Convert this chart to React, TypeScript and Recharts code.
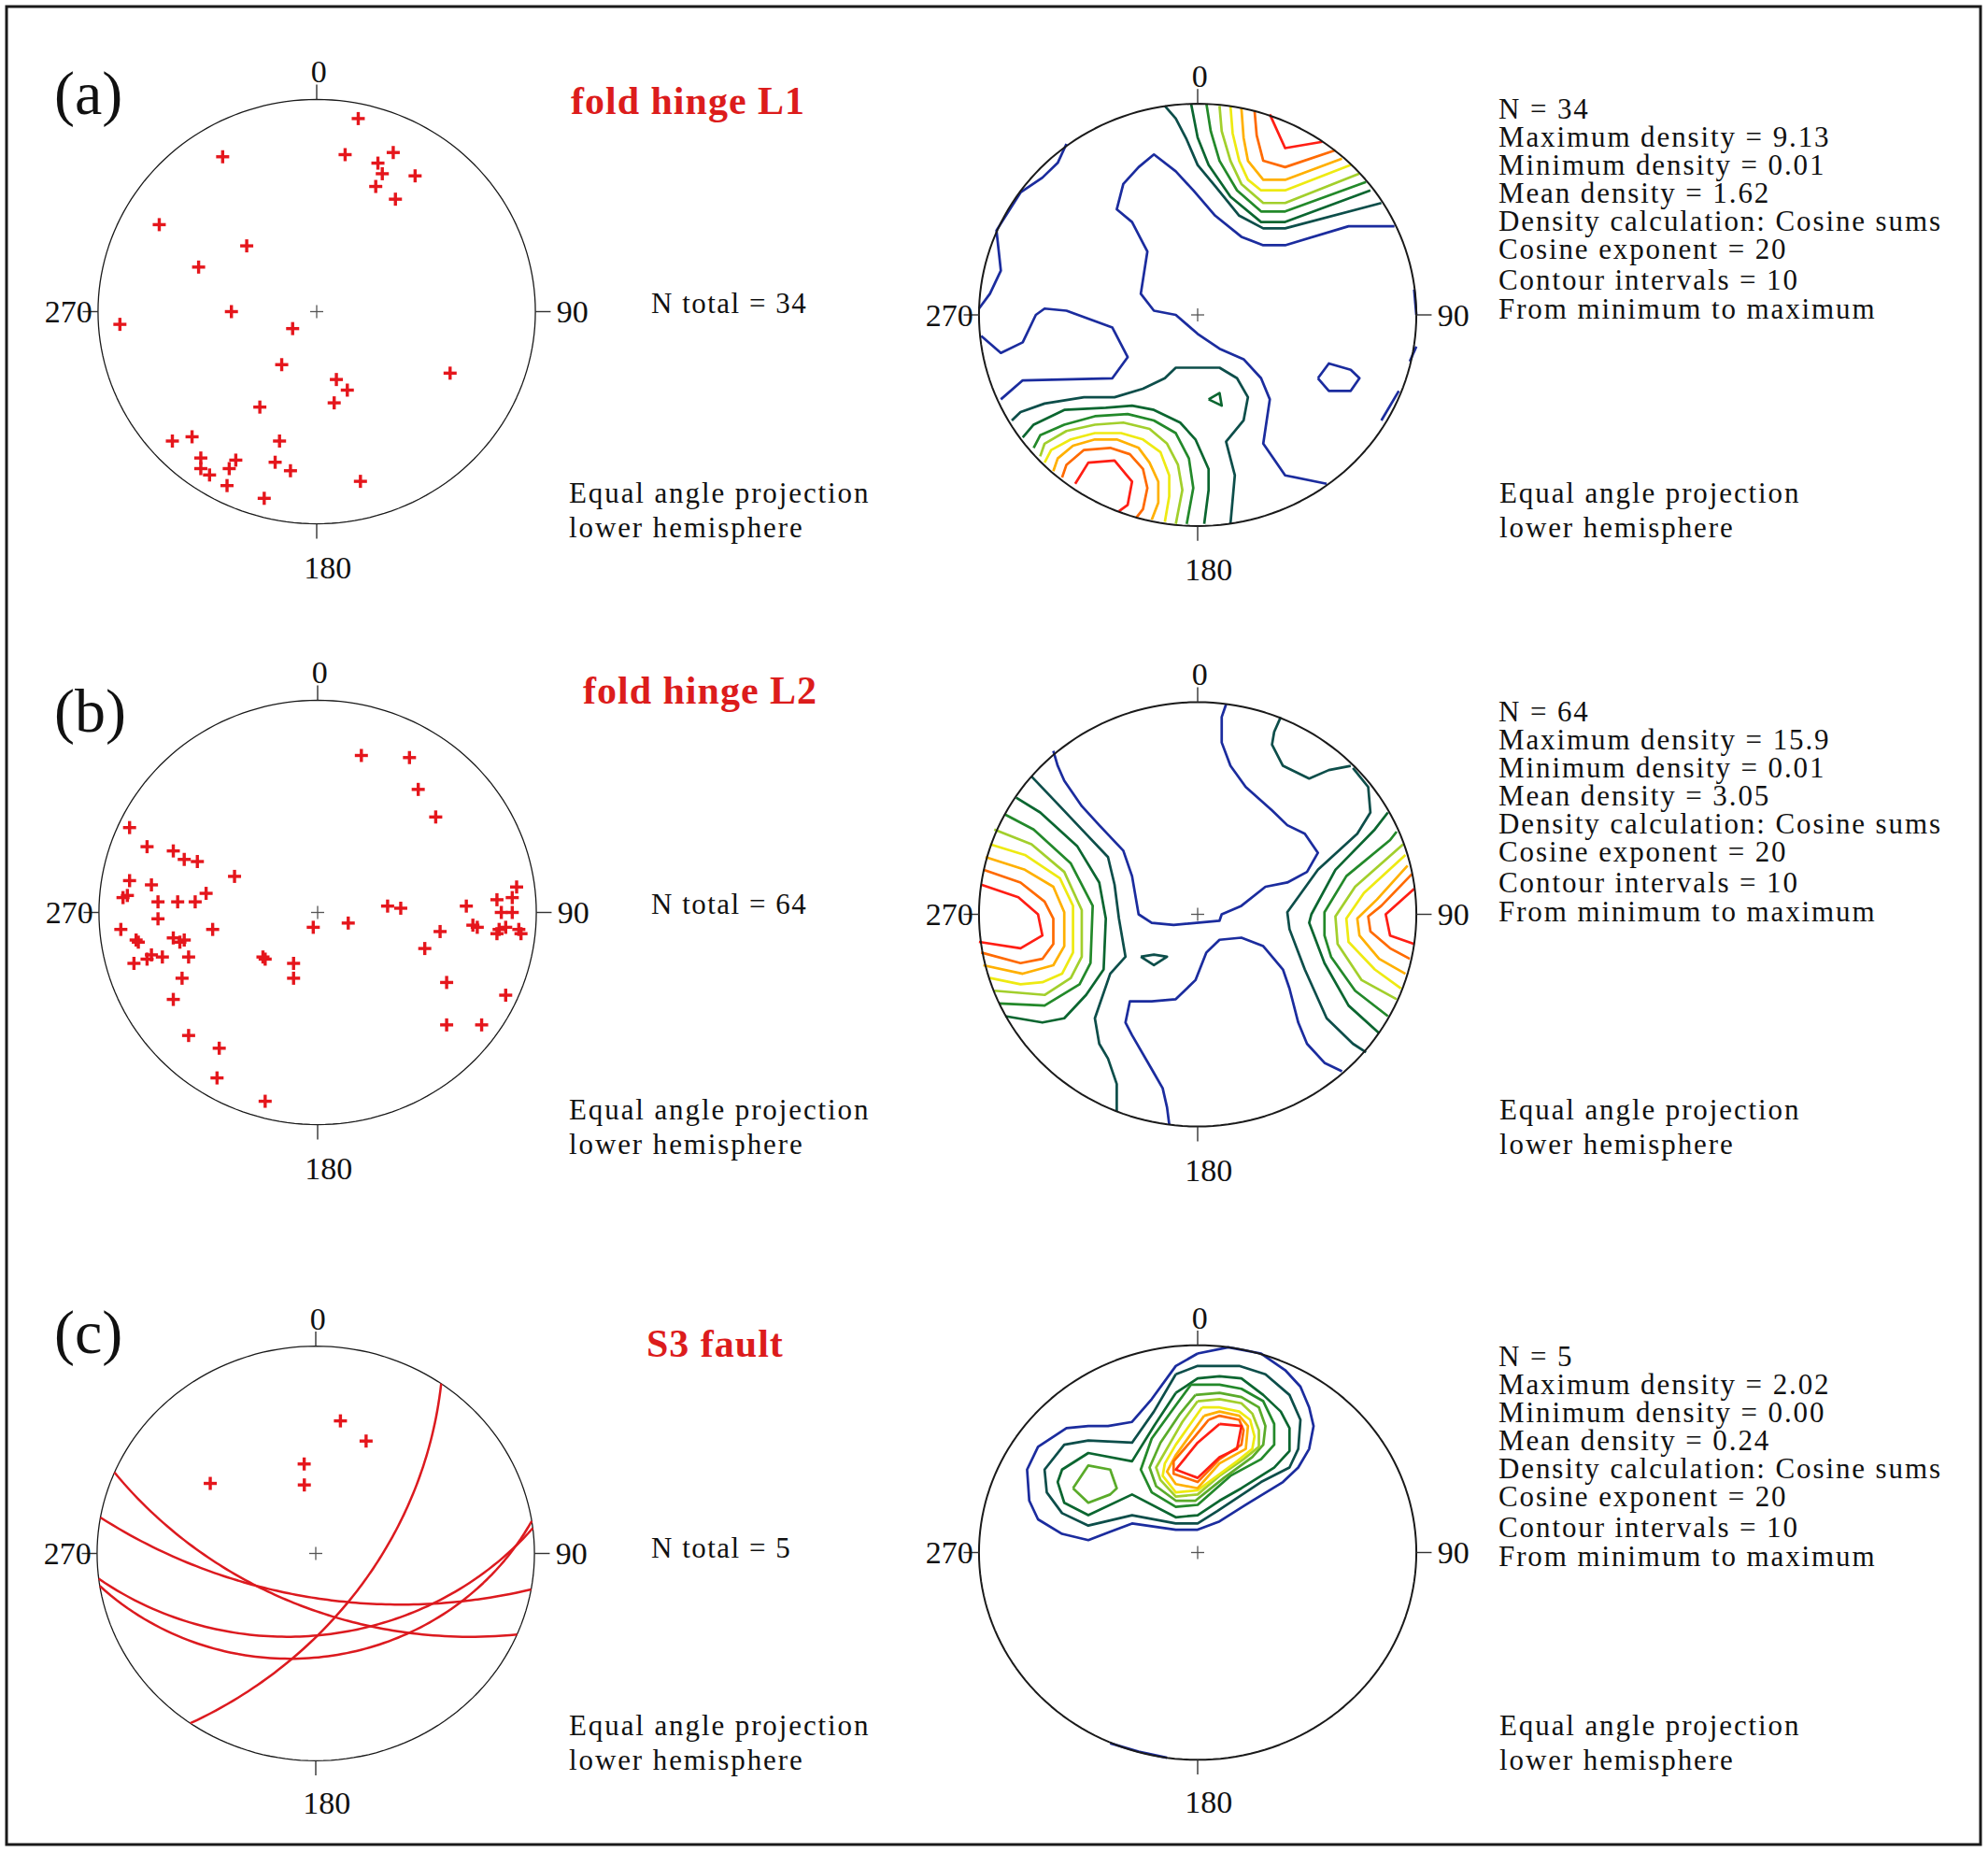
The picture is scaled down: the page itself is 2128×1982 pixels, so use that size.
import React from "react";
import { ScatterChart, Scatter, XAxis, YAxis } from "recharts";

// ---------- data (unit circle: x = east, y = north) ----------

const hingeL1: number[][] = [
  [0.19, 0.91], [-0.43, 0.73], [0.13, 0.74], [0.35, 0.75], [0.28, 0.7], [0.3, 0.65],
  [0.45, 0.64], [0.27, 0.59], [0.36, 0.53], [-0.72, 0.41], [-0.32, 0.31], [-0.54, 0.21],
  [-0.39, 0.0], [-0.9, -0.06], [-0.11, -0.08], [-0.16, -0.25], [0.61, -0.29], [0.09, -0.32],
  [0.14, -0.37], [0.08, -0.43], [-0.26, -0.45], [-0.66, -0.61], [-0.57, -0.59], [-0.17, -0.61],
  [-0.53, -0.69], [-0.37, -0.7], [-0.53, -0.74], [-0.4, -0.74], [-0.49, -0.77], [-0.19, -0.71],
  [-0.12, -0.75], [-0.41, -0.82], [0.2, -0.8], [-0.24, -0.88],
];

const hingeL2: number[][] = [
  [0.2, 0.74], [0.42, 0.73], [0.46, 0.58], [0.54, 0.45], [-0.86, 0.4], [-0.78, 0.31],
  [-0.66, 0.29], [-0.61, 0.25], [-0.55, 0.24], [-0.38, 0.17], [-0.86, 0.15], [-0.76, 0.13],
  [-0.87, 0.08], [-0.89, 0.07], [-0.73, 0.05], [-0.64, 0.05], [-0.56, 0.05], [-0.51, 0.09],
  [-0.73, -0.03], [-0.9, -0.08], [-0.48, -0.08], [-0.66, -0.12], [-0.61, -0.13], [-0.63, -0.14],
  [-0.83, -0.13], [-0.82, -0.14], [-0.84, -0.24], [-0.78, -0.22], [-0.76, -0.2], [-0.71, -0.21],
  [-0.59, -0.21], [-0.62, -0.31], [-0.66, -0.41], [-0.59, -0.58], [-0.45, -0.64], [-0.46, -0.78],
  [-0.24, -0.89], [-0.25, -0.21], [-0.24, -0.22], [-0.11, -0.24], [-0.11, -0.31], [-0.02, -0.07],
  [0.14, -0.05], [0.32, 0.03], [0.38, 0.02], [0.56, -0.09], [0.49, -0.17], [0.68, 0.03],
  [0.71, -0.06], [0.73, -0.07], [0.59, -0.33], [0.59, -0.53], [0.75, -0.53], [0.86, -0.39],
  [0.82, 0.06], [0.89, 0.07], [0.91, 0.12], [0.84, 0.0], [0.89, 0.0], [0.82, -0.1],
  [0.86, -0.07], [0.92, -0.08], [0.93, -0.1], [0.83, -0.08],
];

// S3 fault planes: dip direction / dip (degrees)
const faultDipDir = [190, 203, 173, 171, 125];
const faultDip = [66, 61, 47, 37, 61];

type Contour = { lv: number; pts: number[][] };

const densityL1: Contour[] = [
  { lv: 10, pts: [[0.33, 0.95], [0.4, 0.79], [0.57, 0.82]] },
  { lv: 9, pts: [[0.26, 0.97], [0.27, 0.85], [0.3, 0.73], [0.4, 0.7], [0.63, 0.78]] },
  { lv: 8, pts: [[0.2, 0.98], [0.21, 0.84], [0.23, 0.73], [0.3, 0.64], [0.4, 0.64], [0.66, 0.74]] },
  { lv: 7, pts: [[0.15, 0.99], [0.16, 0.86], [0.19, 0.73], [0.23, 0.64], [0.29, 0.59], [0.4, 0.59], [0.7, 0.71]] },
  { lv: 6, pts: [[0.1, 0.99], [0.11, 0.87], [0.15, 0.73], [0.2, 0.62], [0.3, 0.53], [0.4, 0.53], [0.74, 0.67]] },
  { lv: 4, pts: [[0.04, 1.0], [0.06, 0.87], [0.1, 0.73], [0.18, 0.59], [0.29, 0.49], [0.4, 0.49], [0.77, 0.63]] },
  { lv: 3, pts: [[-0.03, 1.0], [0.0, 0.84], [0.05, 0.71], [0.15, 0.56], [0.29, 0.44], [0.4, 0.44], [0.79, 0.59]] },
  { lv: 2, pts: [[-0.15, 0.99], [-0.1, 0.93], [-0.05, 0.83], [0.0, 0.71], [0.08, 0.61], [0.19, 0.47], [0.3, 0.41], [0.4, 0.41], [0.84, 0.53]] },
  { lv: 1, pts: [[0.9, 0.42], [0.69, 0.42], [0.4, 0.33], [0.3, 0.33], [0.2, 0.37], [0.08, 0.47], [-0.02, 0.59], [-0.1, 0.68], [-0.2, 0.76], [-0.27, 0.7], [-0.34, 0.62], [-0.37, 0.5], [-0.3, 0.44], [-0.23, 0.3], [-0.26, 0.1], [-0.2, 0.02], [-0.1, 0.0], [0.0, -0.09], [0.1, -0.16], [0.21, -0.21], [0.29, -0.3], [0.33, -0.4], [0.3, -0.61], [0.4, -0.76], [0.59, -0.8]] },
  { lv: 1, pts: [[-0.6, 0.81], [-0.64, 0.72], [-0.71, 0.65], [-0.81, 0.58], [-0.92, 0.4], [-0.9, 0.21], [-0.95, 0.1], [-1.0, 0.03]] },
  { lv: 1, pts: [[-0.9, -0.4], [-0.8, -0.31], [-0.39, -0.3], [-0.32, -0.2], [-0.39, -0.06], [-0.6, 0.02], [-0.7, 0.03], [-0.74, 0.0], [-0.8, -0.13], [-0.9, -0.18], [-0.99, -0.1]] },
  { lv: 1, pts: [[0.55, -0.3], [0.6, -0.23], [0.7, -0.26], [0.74, -0.3], [0.7, -0.36], [0.6, -0.36], [0.55, -0.3]] },
  { lv: 1, pts: [[0.99, 0.12], [1.0, 0.0]] },
  { lv: 1, pts: [[1.0, -0.15], [0.97, -0.22]] },
  { lv: 1, pts: [[0.92, -0.36], [0.84, -0.5]] },
  { lv: 2, pts: [[-0.85, -0.5], [-0.81, -0.46], [-0.7, -0.42], [-0.52, -0.39], [-0.38, -0.39], [-0.25, -0.35], [-0.15, -0.3], [-0.1, -0.25], [0.1, -0.25], [0.18, -0.3], [0.23, -0.39], [0.21, -0.5], [0.13, -0.6], [0.17, -0.76], [0.15, -0.99]] },
  { lv: 3, pts: [[-0.8, -0.58], [-0.75, -0.52], [-0.61, -0.45], [-0.42, -0.44], [-0.3, -0.43], [-0.2, -0.45], [-0.08, -0.51], [-0.01, -0.59], [0.05, -0.73], [0.05, -0.83], [0.03, -0.99]] },
  { lv: 4, pts: [[-0.75, -0.63], [-0.72, -0.57], [-0.61, -0.52], [-0.47, -0.48], [-0.32, -0.47], [-0.2, -0.5], [-0.1, -0.56], [-0.04, -0.68], [-0.02, -0.82], [-0.05, -0.99]] },
  { lv: 6, pts: [[-0.72, -0.67], [-0.7, -0.61], [-0.6, -0.55], [-0.47, -0.52], [-0.34, -0.51], [-0.22, -0.54], [-0.14, -0.61], [-0.09, -0.71], [-0.07, -0.83], [-0.1, -0.99]] },
  { lv: 7, pts: [[-0.7, -0.7], [-0.67, -0.64], [-0.58, -0.59], [-0.47, -0.56], [-0.35, -0.56], [-0.25, -0.59], [-0.17, -0.65], [-0.13, -0.76], [-0.13, -0.86], [-0.15, -0.98]] },
  { lv: 8, pts: [[-0.66, -0.74], [-0.64, -0.68], [-0.57, -0.62], [-0.47, -0.59], [-0.37, -0.59], [-0.27, -0.63], [-0.22, -0.7], [-0.18, -0.79], [-0.18, -0.89], [-0.21, -0.97]] },
  { lv: 9, pts: [[-0.62, -0.77], [-0.6, -0.71], [-0.52, -0.64], [-0.4, -0.63], [-0.31, -0.66], [-0.25, -0.73], [-0.23, -0.82], [-0.25, -0.92], [-0.28, -0.96]] },
  { lv: 10, pts: [[-0.56, -0.8], [-0.5, -0.7], [-0.38, -0.69], [-0.3, -0.79], [-0.32, -0.9], [-0.36, -0.93]] },
  { lv: 3, pts: [[0.05, -0.4], [0.1, -0.37], [0.11, -0.43], [0.05, -0.4]] },
];

const densityL2: Contour[] = [
  { lv: 10, pts: [[-0.99, 0.14], [-0.82, 0.08], [-0.73, 0.0], [-0.71, -0.1], [-0.81, -0.16], [-1.0, -0.13]] },
  { lv: 9, pts: [[-0.98, 0.21], [-0.81, 0.15], [-0.7, 0.06], [-0.66, -0.02], [-0.66, -0.14], [-0.71, -0.21], [-0.81, -0.23], [-0.99, -0.18]] },
  { lv: 8, pts: [[-0.97, 0.27], [-0.79, 0.21], [-0.66, 0.13], [-0.61, 0.01], [-0.61, -0.15], [-0.66, -0.24], [-0.8, -0.28], [-0.98, -0.24]] },
  { lv: 7, pts: [[-0.95, 0.33], [-0.79, 0.28], [-0.63, 0.17], [-0.57, 0.04], [-0.57, -0.18], [-0.62, -0.28], [-0.71, -0.32], [-0.81, -0.33], [-0.95, -0.3]] },
  { lv: 6, pts: [[-0.93, 0.4], [-0.76, 0.33], [-0.61, 0.2], [-0.53, 0.02], [-0.53, -0.2], [-0.58, -0.3], [-0.7, -0.38], [-0.93, -0.36]] },
  { lv: 4, pts: [[-0.88, 0.47], [-0.75, 0.4], [-0.58, 0.24], [-0.48, 0.04], [-0.49, -0.23], [-0.54, -0.33], [-0.7, -0.43], [-0.91, -0.42]] },
  { lv: 3, pts: [[-0.83, 0.55], [-0.72, 0.48], [-0.55, 0.32], [-0.45, 0.15], [-0.42, -0.02], [-0.43, -0.26], [-0.51, -0.38], [-0.61, -0.49], [-0.71, -0.51], [-0.88, -0.48]] },
  { lv: 2, pts: [[-0.76, 0.65], [-0.64, 0.52], [-0.53, 0.4], [-0.41, 0.27], [-0.38, 0.14], [-0.36, -0.02], [-0.33, -0.2], [-0.4, -0.28], [-0.47, -0.49], [-0.45, -0.61], [-0.41, -0.68], [-0.37, -0.8], [-0.37, -0.93]] },
  { lv: 2, pts: [[-0.26, -0.2], [-0.2, -0.19], [-0.14, -0.2], [-0.2, -0.24], [-0.26, -0.2]] },
  { lv: 1, pts: [[-0.66, 0.77], [-0.64, 0.7], [-0.61, 0.63], [-0.53, 0.51], [-0.45, 0.42], [-0.34, 0.3], [-0.3, 0.18], [-0.27, 0.0], [-0.21, -0.04], [-0.11, -0.05], [0.1, -0.03], [0.11, 0.0], [0.2, 0.04], [0.31, 0.13], [0.41, 0.15], [0.5, 0.2], [0.55, 0.29], [0.49, 0.38], [0.41, 0.42], [0.34, 0.49], [0.22, 0.6], [0.15, 0.7], [0.11, 0.81], [0.11, 0.93], [0.13, 0.99]] },
  { lv: 1, pts: [[-0.13, -0.99], [-0.14, -0.91], [-0.16, -0.82], [-0.21, -0.73], [-0.3, -0.57], [-0.33, -0.51], [-0.31, -0.41], [-0.21, -0.41], [-0.1, -0.4], [-0.01, -0.31], [0.04, -0.18], [0.1, -0.12], [0.2, -0.11], [0.3, -0.15], [0.39, -0.26], [0.42, -0.35], [0.46, -0.51], [0.5, -0.61], [0.58, -0.7], [0.66, -0.74]] },
  { lv: 2, pts: [[0.38, 0.93], [0.35, 0.86], [0.34, 0.8], [0.39, 0.7], [0.51, 0.64], [0.6, 0.68], [0.7, 0.7]] },
  { lv: 2, pts: [[0.71, 0.69], [0.78, 0.6], [0.79, 0.48], [0.73, 0.38], [0.55, 0.21], [0.41, 0.01], [0.42, -0.07], [0.49, -0.26], [0.59, -0.49], [0.71, -0.61], [0.77, -0.65]] },
  { lv: 3, pts: [[0.87, 0.48], [0.81, 0.4], [0.63, 0.21], [0.52, 0.0], [0.51, -0.04], [0.58, -0.23], [0.69, -0.43], [0.83, -0.56]] },
  { lv: 4, pts: [[0.91, 0.39], [0.88, 0.35], [0.68, 0.18], [0.58, 0.01], [0.58, -0.1], [0.61, -0.2], [0.72, -0.36], [0.87, -0.48]] },
  { lv: 6, pts: [[0.94, 0.33], [0.72, 0.13], [0.63, -0.01], [0.64, -0.14], [0.75, -0.31], [0.91, -0.4]] },
  { lv: 7, pts: [[0.95, 0.28], [0.76, 0.1], [0.68, -0.02], [0.69, -0.13], [0.81, -0.26], [0.93, -0.35]] },
  { lv: 8, pts: [[0.96, 0.23], [0.82, 0.07], [0.73, -0.02], [0.74, -0.1], [0.83, -0.21], [0.95, -0.28]] },
  { lv: 9, pts: [[0.98, 0.19], [0.84, 0.04], [0.78, -0.01], [0.79, -0.08], [0.88, -0.16], [0.97, -0.21]] },
  { lv: 10, pts: [[0.99, 0.12], [0.86, 0.0], [0.88, -0.1], [0.99, -0.14]] },
];

const densityS3: Contour[] = [
  { lv: 1, pts: [[0.0, 0.96], [0.14, 0.99], [0.29, 0.96], [0.4, 0.88], [0.47, 0.8], [0.51, 0.7], [0.53, 0.61], [0.51, 0.5], [0.46, 0.41], [0.39, 0.34], [0.22, 0.23], [0.1, 0.15], [0.0, 0.11], [-0.1, 0.11], [-0.3, 0.14], [-0.4, 0.1], [-0.5, 0.06], [-0.62, 0.09], [-0.73, 0.16], [-0.77, 0.25], [-0.78, 0.4], [-0.73, 0.51], [-0.6, 0.6], [-0.5, 0.61], [-0.41, 0.61], [-0.3, 0.63], [-0.21, 0.74], [-0.1, 0.9], [0.0, 0.96]] },
  { lv: 2, pts: [[-0.1, 0.86], [0.0, 0.9], [0.19, 0.9], [0.31, 0.86], [0.42, 0.76], [0.47, 0.64], [0.46, 0.5], [0.42, 0.41], [0.29, 0.34], [0.19, 0.27], [0.09, 0.2], [0.0, 0.14], [-0.1, 0.14], [-0.3, 0.18], [-0.5, 0.13], [-0.62, 0.19], [-0.69, 0.29], [-0.7, 0.4], [-0.61, 0.52], [-0.5, 0.54], [-0.3, 0.53], [-0.2, 0.68], [-0.1, 0.86]] },
  { lv: 3, pts: [[-0.1, 0.77], [0.0, 0.84], [0.1, 0.85], [0.2, 0.84], [0.3, 0.76], [0.38, 0.68], [0.42, 0.6], [0.42, 0.49], [0.35, 0.41], [0.2, 0.31], [0.1, 0.25], [0.0, 0.18], [-0.1, 0.17], [-0.3, 0.28], [-0.5, 0.18], [-0.61, 0.24], [-0.64, 0.34], [-0.62, 0.4], [-0.5, 0.48], [-0.3, 0.44], [-0.2, 0.61], [-0.1, 0.77]] },
  { lv: 4, pts: [[-0.03, 0.81], [0.1, 0.81], [0.2, 0.79], [0.3, 0.73], [0.35, 0.62], [0.35, 0.52], [0.29, 0.45], [0.15, 0.37], [0.0, 0.23], [-0.1, 0.22], [-0.21, 0.29], [-0.26, 0.4], [-0.21, 0.55], [-0.1, 0.71], [-0.03, 0.81]] },
  { lv: 5, pts: [[-0.57, 0.31], [-0.5, 0.42], [-0.4, 0.4], [-0.37, 0.31], [-0.4, 0.28], [-0.5, 0.24], [-0.57, 0.31]] },
  { lv: 5, pts: [[-0.01, 0.76], [0.1, 0.77], [0.2, 0.75], [0.28, 0.7], [0.31, 0.61], [0.3, 0.52], [0.25, 0.46], [0.12, 0.36], [-0.01, 0.25], [-0.1, 0.25], [-0.19, 0.32], [-0.22, 0.41], [-0.17, 0.53], [-0.08, 0.67], [-0.01, 0.76]] },
  { lv: 6, pts: [[0.0, 0.73], [0.1, 0.74], [0.2, 0.72], [0.25, 0.67], [0.28, 0.59], [0.28, 0.51], [0.21, 0.45], [0.1, 0.37], [0.0, 0.28], [-0.1, 0.27], [-0.17, 0.35], [-0.19, 0.41], [-0.13, 0.52], [-0.07, 0.63], [0.0, 0.73]] },
  { lv: 7, pts: [[0.02, 0.7], [0.1, 0.7], [0.19, 0.68], [0.24, 0.64], [0.26, 0.56], [0.25, 0.5], [0.18, 0.44], [0.0, 0.3], [-0.1, 0.29], [-0.16, 0.37], [-0.15, 0.43], [-0.1, 0.52], [-0.04, 0.61], [0.02, 0.7]] },
  { lv: 8, pts: [[0.03, 0.66], [0.1, 0.68], [0.19, 0.66], [0.23, 0.61], [0.22, 0.5], [0.1, 0.43], [0.0, 0.31], [-0.1, 0.33], [-0.14, 0.39], [-0.1, 0.47], [0.03, 0.66]] },
  { lv: 9, pts: [[0.05, 0.64], [0.1, 0.66], [0.19, 0.64], [0.21, 0.59], [0.2, 0.52], [0.1, 0.45], [0.0, 0.34], [-0.11, 0.38], [-0.11, 0.44], [-0.02, 0.55], [0.05, 0.64]] },
  { lv: 10, pts: [[0.1, 0.62], [0.2, 0.61], [0.18, 0.5], [0.1, 0.46], [0.0, 0.36], [-0.1, 0.4], [0.0, 0.53], [0.1, 0.62]] },
  { lv: 1, pts: [[-0.4, -0.92], [-0.27, -0.96], [-0.14, -0.99]] },
];

const infoL1 = ["N = 34", "Maximum density = 9.13", "Minimum density = 0.01", "Mean density = 1.62", "Density calculation: Cosine sums", "Cosine exponent = 20", "Contour intervals = 10", "From minimum to maximum"];
const infoL2 = ["N = 64", "Maximum density = 15.9", "Minimum density = 0.01", "Mean density = 3.05", "Density calculation: Cosine sums", "Cosine exponent = 20", "Contour intervals = 10", "From minimum to maximum"];
const infoS3 = ["N = 5", "Maximum density = 2.02", "Minimum density = 0.00", "Mean density = 0.24", "Density calculation: Cosine sums", "Cosine exponent = 20", "Contour intervals = 10", "From minimum to maximum"];

const levelColors = ["", "#1b2c9e", "#0d4e4a", "#0b6630", "#23892a", "#5aab2a", "#a2cf2c", "#eeea12", "#ffb000", "#ff6a00", "#ff1e14"];

// ---------- helpers ----------
const SERIF = "'Liberation Serif', 'Times New Roman', serif";
const D = 1.35;
const rad = Math.PI / 180;
type Geo = { cx: number; cy: number; rx: number; ry: number };
type P = { x: number; y: number };

const toPts = (a: number[][]): P[] => a.map(([x, y]) => ({ x, y }));

// stereographic (equal angle), lower hemisphere
const project = (trend: number, plunge: number): P => {
  const r = Math.tan(((90 - plunge) / 2) * rad);
  return { x: r * Math.sin(trend * rad), y: r * Math.cos(trend * rad) };
};

const greatCircle = (dd: number, dip: number): P[] => {
  const s = dd - 90;
  const out: P[] = [];
  for (let b = 0; b <= 180; b += 2) {
    const cb = Math.cos(b * rad), sb = Math.sin(b * rad);
    const vx = cb * Math.sin(s * rad) + sb * Math.sin(dd * rad) * Math.cos(dip * rad);
    const vy = cb * Math.cos(s * rad) + sb * Math.cos(dd * rad) * Math.cos(dip * rad);
    const vz = -sb * Math.sin(dip * rad);
    out.push(project(Math.atan2(vx, vy) / rad, Math.asin(Math.min(1, -vz)) / rad));
  }
  return out;
};

const primitive: P[] = [];
for (let a = 0; a <= 360; a += 2) primitive.push({ x: Math.sin(a * rad), y: Math.cos(a * rad) });

const noShape = () => <g />;

const redCross = (p: any) => (
  <g>
    <line x1={p.cx - 7} x2={p.cx + 7} y1={p.cy} y2={p.cy} stroke="#e5161c" strokeWidth={3.4} />
    <line x1={p.cx} x2={p.cx} y1={p.cy - 7} y2={p.cy + 7} stroke="#e5161c" strokeWidth={3.4} />
  </g>
);

const centerCross = (p: any) => (
  <g>
    <line x1={p.cx - 7} x2={p.cx + 7} y1={p.cy} y2={p.cy} stroke="#555" strokeWidth={1.3} />
    <line x1={p.cx} x2={p.cx} y1={p.cy - 7} y2={p.cy + 7} stroke="#555" strokeWidth={1.3} />
  </g>
);

const degText = (p: any) => (
  <text x={p.cx} y={p.cy} textAnchor="middle" dominantBaseline="central" fontSize={34} fontFamily={SERIF} fill="#111">
    {p.payload.t}
  </text>
);

const lineSeries = (key: string, pts: P[], stroke: string, width: number) => (
  <Scatter
    key={key}
    data={pts}
    line={{ stroke, strokeWidth: width, strokeLinejoin: "round" }}
    lineType="joint"
    shape={noShape}
    isAnimationActive={false}
    legendType="none"
  />
);

const compass = [
  { x: 0.01, y: 1.13, t: "0" },
  { x: 1.17, y: 0, t: "90" },
  { x: 0.05, y: -1.205, t: "180" },
  { x: -1.135, y: 0, t: "270" },
];

const frameSeries = (heavy: boolean) => [
  lineSeries("prim", primitive, "#1a1a1a", heavy ? 2 : 1.3),
  lineSeries("tN", [{ x: 0, y: 1 }, { x: 0, y: 1.07 }], "#333", 1.4),
  lineSeries("tE", [{ x: 1, y: 0 }, { x: 1.07, y: 0 }], "#333", 1.4),
  lineSeries("tS", [{ x: 0, y: -1 }, { x: 0, y: -1.07 }], "#333", 1.4),
  lineSeries("tW", [{ x: -1, y: 0 }, { x: -1.07, y: 0 }], "#333", 1.4),
  <Scatter key="ctr" data={[{ x: 0, y: 0 }]} shape={centerCross} isAnimationActive={false} legendType="none" />,
  <Scatter key="deg" data={compass} shape={degText} isAnimationActive={false} legendType="none" />,
];

const contourSeries = (list: Contour[]) =>
  list.map((c, i) => lineSeries("c" + i, toPts(c.pts), levelColors[c.lv], 2.7));

function Net({ g, series }: { g: Geo; series: React.ReactNode[] }) {
  const w = Math.round(2 * D * g.rx);
  const h = Math.round(2 * D * g.ry);
  return (
    <div style={{ position: "absolute", left: Math.round(g.cx - w / 2), top: Math.round(g.cy - h / 2) }}>
      <ScatterChart width={w} height={h} margin={{ top: 0, right: 0, bottom: 0, left: 0 }}>
        <XAxis type="number" dataKey="x" domain={[-D, D]} hide allowDataOverflow />
        <YAxis type="number" dataKey="y" domain={[-D, D]} hide allowDataOverflow />
        {series}
      </ScatterChart>
    </div>
  );
}

const geoAL: Geo = { cx: 339, cy: 333, rx: 234, ry: 227 };
const geoAR: Geo = { cx: 1282, cy: 337, rx: 234, ry: 226 };
const geoBL: Geo = { cx: 340, cy: 976, rx: 234, ry: 227 };
const geoBR: Geo = { cx: 1282, cy: 978, rx: 234, ry: 227 };
const geoCL: Geo = { cx: 338, cy: 1662, rx: 234, ry: 222 };
const geoCR: Geo = { cx: 1282, cy: 1661, rx: 234, ry: 222 };

const infoOffsets = [0, 30, 60, 90, 120, 150, 183, 214];

export default function App() {
  const poles = faultDipDir.map((dd, i) => project(dd + 180, 90 - faultDip[i]));
  const circles = faultDipDir.map((dd, i) =>
    lineSeries("gc" + i, greatCircle(dd, faultDip[i]), "#dc1a1f", 2.5)
  );

  const txt = { fontFamily: SERIF, fill: "#111" };
  const body = { ...txt, fontSize: 31, letterSpacing: 1.9 };
  const rows = [
    { lab: "(a)", labY: 122, title: "fold hinge L1", tx: 611, tY: 122, n: "N total = 34", nY: 335, eq: 538, info: infoL1, iY: 127 },
    { lab: "(b)", labY: 783, title: "fold hinge L2", tx: 624, tY: 753, n: "N total = 64", nY: 978, eq: 1198, info: infoL2, iY: 772 },
    { lab: "(c)", labY: 1448, title: "S3 fault", tx: 692, tY: 1452, n: "N total = 5", nY: 1667, eq: 1857, info: infoS3, iY: 1462 },
  ];

  return (
    <div style={{ position: "absolute", left: 0, top: 0, width: 2128, height: 1982, background: "#fff" }}>
      <svg width={2128} height={1982} style={{ position: "absolute", left: 0, top: 0 }}>
        <rect x={7} y={7} width={2113} height={1967} fill="none" stroke="#1a1a1a" strokeWidth={3} />
        {rows.map((r) => (
          <g key={r.lab}>
            <text x={58} y={r.labY} fontSize={66} {...txt}>{r.lab}</text>
            <text x={r.tx} y={r.tY} fontSize={42} fontWeight="bold" fontFamily={SERIF} fill="#dc1c1c" letterSpacing={1}>
              {r.title}
            </text>
            <text x={697} y={r.nY} {...body} letterSpacing={1.5}>{r.n}</text>
            <text x={609} y={r.eq} {...body}>Equal angle projection</text>
            <text x={609} y={r.eq + 37} {...body}>lower hemisphere</text>
            <text x={1605} y={r.eq} {...body}>Equal angle projection</text>
            <text x={1605} y={r.eq + 37} {...body}>lower hemisphere</text>
            {r.info.map((s, i) => (
              <text key={i} x={1604} y={r.iY + infoOffsets[i]} {...body}>{s}</text>
            ))}
          </g>
        ))}
      </svg>

      <Net
        g={geoAL}
        series={[
          ...frameSeries(false),
          <Scatter key="pts" data={toPts(hingeL1)} shape={redCross} isAnimationActive={false} legendType="none" />,
        ]}
      />
      <Net g={geoAR} series={[...contourSeries(densityL1), ...frameSeries(true)]} />

      <Net
        g={geoBL}
        series={[
          ...frameSeries(false),
          <Scatter key="pts" data={toPts(hingeL2)} shape={redCross} isAnimationActive={false} legendType="none" />,
        ]}
      />
      <Net g={geoBR} series={[...contourSeries(densityL2), ...frameSeries(true)]} />

      <Net
        g={geoCL}
        series={[
          ...frameSeries(false),
          ...circles,
          <Scatter key="pts" data={poles} shape={redCross} isAnimationActive={false} legendType="none" />,
        ]}
      />
      <Net g={geoCR} series={[...contourSeries(densityS3), ...frameSeries(true)]} />
    </div>
  );
}
